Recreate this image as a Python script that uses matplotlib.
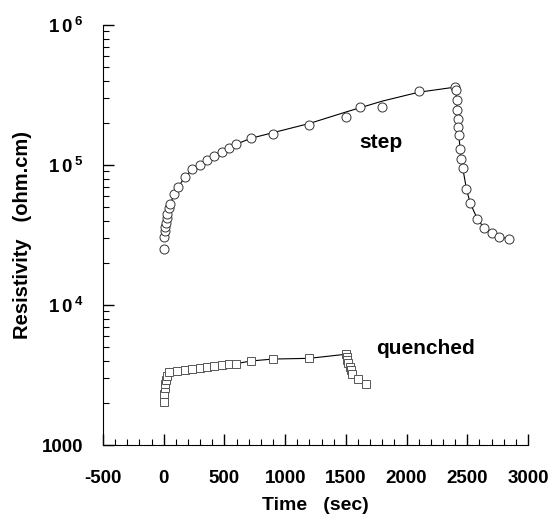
import matplotlib.pyplot as plt
from matplotlib.ticker import FixedLocator, FixedFormatter, MultipleLocator, LogLocator, NullFormatter

plt.rcParams['font.family'] = ['Liberation Sans', 'DejaVu Sans']
plt.rcParams['font.weight'] = 'bold'
plt.rcParams['axes.unicode_minus'] = False
plt.rcParams['mathtext.fontset'] = 'custom'
plt.rcParams['mathtext.rm'] = 'Liberation Sans:bold'
plt.rcParams['mathtext.bf'] = 'Liberation Sans:bold'

## step anneal data
step_t = [0, 3, 8, 13, 18, 23, 30, 40, 55, 87, 120, 178, 236, 296, 357, 417, 478, 538, 596,
          716, 898, 1199, 1499, 1620, 1801, 2103, 2399, 2405, 2413, 2418, 2424, 2427, 2430,
          2441, 2451, 2463, 2493, 2523, 2583, 2641, 2702, 2762, 2844]
step_r = [25100, 30800, 33500, 36200, 38800, 41800, 45000, 49000, 53000, 62100, 70000, 82400,
          93000, 100400, 108600, 116000, 123800, 131600, 140500, 155000, 166400, 193000,
          221000, 259000, 259000, 340000, 360600, 342000, 292000, 248000, 214000, 186000,
          164000, 130000, 110000, 94700, 67400, 53800, 41100, 35300, 32700, 30800, 29600]

## smooth curve drawn through the step data
step_fit_t = [30, 40, 55, 87, 120, 178, 236, 296, 357, 417, 478, 538, 596, 716, 898, 1200,
              1500, 1800, 2100, 2400, 2405, 2413, 2418, 2424, 2427, 2430, 2441, 2451, 2463,
              2493, 2523, 2583, 2641, 2702, 2762, 2844]
step_fit_r = [45000, 49000, 53000, 62100, 70000, 82400, 93000, 100400, 108600, 116000,
              123800, 131600, 140500, 155000, 170000, 198000, 239000, 286000, 331000, 360000,
              342000, 292000, 248000, 214000, 186000, 164000, 130000, 110000, 94700, 67400,
              53800, 41100, 35300, 32700, 30800, 29600]

## quenched data
quench_t = [0, 3, 8, 13, 18, 25, 46, 112, 175, 236, 296, 357, 417, 478, 538, 598, 716, 898,
            1199, 1502, 1507, 1513, 1520, 1530, 1540, 1554, 1600, 1668]
quench_r = [2030, 2320, 2540, 2730, 2910, 3110, 3340, 3380, 3450, 3510, 3570, 3630, 3690,
            3750, 3790, 3810, 3980, 4110, 4160, 4450, 4280, 4050, 3830, 3630, 3430, 3210,
            2950, 2710]

y_ticks = [1000, 1e4, 1e5, 1e6]
y_labels = ['1000', r'$1\,0^{\,4}$', r'$1\,0^{\,5}$', r'$1\,0^{\,6}$']

fig = plt.figure(figsize=(5.54, 5.18), dpi=100)
ax = fig.add_axes([103 / 554, 73 / 518, 425 / 554, 420 / 518])

ax.plot(step_fit_t, step_fit_r, '-', color='black', lw=0.8)
ax.plot(step_t, step_r, 'o', ms=6.5, mfc='white', mec='#333333', mew=0.7)
ax.plot(quench_t, quench_r, '-', color='black', lw=0.8, marker='s', ms=5.5,
        mfc='white', mec='#555555', mew=0.7)

ax.text(1790, 143600, 'step', fontsize=15, fontweight='bold', ha='center', va='center')
ax.text(2152, 4930, 'quenched', fontsize=15, fontweight='bold', ha='center', va='center')

ax.set_yscale('log')
ax.set_xlim(-500, 3000)
ax.set_ylim(1000, 1e6)

ax.xaxis.set_major_locator(MultipleLocator(500))
ax.xaxis.set_minor_locator(MultipleLocator(100))
ax.yaxis.set_major_locator(FixedLocator(y_ticks))
ax.yaxis.set_major_formatter(FixedFormatter(y_labels))
ax.yaxis.set_minor_locator(LogLocator(base=10, subs=range(2, 10)))
ax.yaxis.set_minor_formatter(NullFormatter())

ax.spines['top'].set_visible(False)
ax.spines['right'].set_visible(False)
ax.tick_params(which='major', direction='in', length=8, width=1, labelsize=13.5)
ax.tick_params(axis='x', which='major', pad=18)
ax.tick_params(axis='y', which='major', pad=14)
ax.tick_params(which='minor', direction='in', length=4, width=0.8)
for lab in ax.get_xticklabels() + ax.get_yticklabels():
    lab.set_fontweight('bold')

ax.set_xlabel('Time   (sec)', fontsize=14, fontweight='bold', labelpad=7)
ax.set_ylabel('Resistivity   (ohm.cm)', fontsize=14.5, fontweight='bold', labelpad=7)

fig.savefig('out.png', dpi=100)
